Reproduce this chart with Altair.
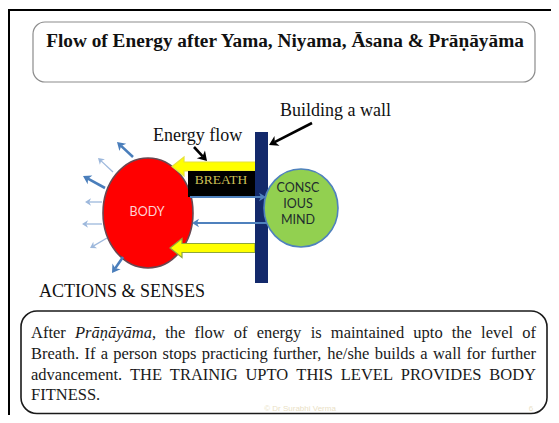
import re
import math
import altair as alt
import pandas as pd

# ---------------- data (text content) ----------------
TITLE = ["Flow of Energy after Yama, Niyama, Āsana & Prāṇāyāma"]
CALLOUTS = ["Building a wall", "Energy flow", "ACTIONS & SENSES"]
BODY_TEXT = ["BODY"]
MIND_TEXT = ["CONSC", "IOUS", "MIND"]
BREATH_TEXT = ["BREATH"]
PARAGRAPH = [
    "After *Prāṇāyāma*, the flow of energy is maintained upto the level of",
    "Breath. If a person stops practicing further, he/she builds a wall for further",
    "advancement. THE TRAINIG UPTO THIS LEVEL PROVIDES BODY",
    "FITNESS.",
]
JUSTIFIED = [True, True, True, False]
WATERMARK = ["© Dr Surabhi Verma", "6"]

# ---------------- layout (reference pixel space) ----------------
W, H = 543, 407
XD = [8, 551]
YD = [415, 8]

TITLE_POS = (285, 47)
CALLOUT_POS = [(280, 116), (153, 141), (39, 297)]
BODY_POS = (147, 212)
MIND_POS = [(298, 188), (298, 204), (298, 220)]
BREATH_POS = (221, 184)
PARA_LEFT, PARA_RIGHT = 31, 536
PARA_BASE = [338, 359, 380, 400]
PARA_FS = 16.5
WM_POS = [(300, 409), (531, 409)]

frame = pd.DataFrame({"x": [6, 9], "y": [10, 10], "x2": [559, 9], "y2": [10, 423]})
title_box = pd.DataFrame({"x": [33], "x2": [535], "y": [22], "y2": [82]})
para_box = pd.DataFrame({"x": [21], "x2": [547], "y": [311], "y2": [413.5]})
plain_rects = pd.DataFrame({
    "x": [188, 255], "x2": [255, 268], "y": [171, 132], "y2": [197, 283],
    "fill": ["#000000", "#13296b"],
})
ellipses = [
    # cx, cy, rx, ry, fill, stroke
    (148, 213, 45, 55, "#ff0000", "#6a4650"),
    (301, 208, 37, 39, "#92d050", "#4f81bd"),
]
yellow = pd.DataFrame({"x": [172, 170], "y": [166.5, 248],
                       "stroke": ["#e6e23a", "#8fa63c"]})
YELLOW_SHAPE = "M 0 0 L 12 -9.5 L 12 -4.5 L 85 -4.5 L 85 4.5 L 12 4.5 L 12 9.5 Z"

thin, thick, mid, blk = ("#9db8dc", 1.3, 6), ("#4a7ebb", 2.6, 8), ("#4f81bd", 2.0, 7), ("#000000", 2.6, 9)
arrows = [
    (133, 157, 117, 142, thick),
    (113, 172, 98, 158, thin),
    (105, 188, 83, 176, thick),
    (102, 202, 85, 202, thin),
    (102, 224, 82, 224, thin),
    (107, 238, 90, 248, thin),
    (123, 257, 112, 273, thick),
    (190, 197, 266, 197, mid),
    (267, 223, 192, 223, mid),
    (194, 147, 207, 161, blk),
    (312, 123, 269, 145, blk),
]
HEAD_SHAPE = "M 0 0 L -1 -0.62 L -0.72 0 L -1 0.62 Z"

# ---------------- build tables ----------------
rows, heads = [], []
for x1, y1, x2, y2, (col, sw, hl) in arrows:
    dx, dy = x2 - x1, y2 - y1
    L = math.hypot(dx, dy)
    ux, uy = dx / L, dy / L
    rows.append({"x": x1, "y": y1, "x2": x2 - ux * hl * 0.7, "y2": y2 - uy * hl * 0.7,
                 "color": col, "sw": sw})
    heads.append({"x": x2, "y": y2, "color": col, "hs": (2 * hl) ** 2,
                  "ang": math.degrees(math.atan2(dy, dx)) % 360})
arrow_lines = pd.DataFrame(rows)
arrow_heads = pd.DataFrame(heads)

# Times / Liberation Serif advance widths (per 1000 em)
TR = dict(zip("abcdefghijklmnopqrstuvwxyz",
              [444, 500, 444, 500, 444, 333, 500, 500, 278, 278, 500, 278, 778, 500, 500, 500,
               500, 333, 389, 278, 500, 500, 722, 500, 500, 444]))
TR.update(zip("ABCDEFGHIJKLMNOPQRSTUVWXYZ",
              [722, 667, 667, 722, 611, 556, 722, 722, 333, 389, 722, 611, 889, 722, 722, 556,
               722, 667, 556, 611, 722, 722, 944, 722, 722, 611]))
TR.update({" ": 250, ".": 250, ",": 250, "/": 278, "ā": 444, "ṇ": 500})
TI = dict(TR)
TI.update({"a": 500, "ā": 500, "r": 389, "y": 444, "m": 722, "P": 611, "ṇ": 500})


def seg_w(s, it):
    t = TI if it else TR
    return sum(t.get(c, 500) for c in s) * PARA_FS / 1000


para_rows = []
for line, base, just in zip(PARAGRAPH, PARA_BASE, JUSTIFIED):
    words = []
    for w in line.split(" "):
        segs = [(m.group(1) or m.group(2), m.group(1) is not None)
                for m in re.finditer(r"\*([^*]+)\*|([^*]+)", w)]
        words.append(segs)
    widths = [sum(seg_w(s, it) for s, it in segs) for segs in words]
    if just and len(words) > 1:
        gap = (PARA_RIGHT - PARA_LEFT - sum(widths)) / (len(words) - 1)
    else:
        gap = seg_w(" ", False)
    cx = PARA_LEFT
    for segs, wd in zip(words, widths):
        sx = cx
        for s, it in segs:
            para_rows.append({"x": sx, "y": base, "t": s, "it": it})
            sx += seg_w(s, it)
        cx += wd + gap
para = pd.DataFrame(para_rows)


# ---------------- chart ----------------
def X(f="x"):
    return alt.X(f"{f}:Q", scale=alt.Scale(domain=XD, nice=False, zero=False), axis=None)


def Y(f="y"):
    return alt.Y(f"{f}:Q", scale=alt.Scale(domain=YD, nice=False, zero=False), axis=None)


def X2():
    return alt.X2("x2:Q")


def Y2():
    return alt.Y2("y2:Q")


layers = []
layers.append(alt.Chart(frame).mark_rule(color="#000000", strokeWidth=2).encode(
    x=X(), y=Y(), x2=X2(), y2=Y2()))
layers.append(alt.Chart(title_box).mark_rect(cornerRadius=12, fill="white", stroke="#8c8c8c",
                                            strokeWidth=1.2).encode(x=X(), x2=X2(), y=Y(), y2=Y2()))
layers.append(alt.Chart(para_box).mark_rect(cornerRadius=16, fill="white", stroke="#1a1a1a",
                                           strokeWidth=1.6).encode(x=X(), x2=X2(), y=Y(), y2=Y2()))

# body ellipse
cx, cy, rx, ry, f, s = ellipses[0]
k = rx / ry
shape = f"M {-k:.4f} 0 A {k:.4f} 1 0 1 0 {k:.4f} 0 A {k:.4f} 1 0 1 0 {-k:.4f} 0 Z"
layers.append(alt.Chart(pd.DataFrame({"x": [cx], "y": [cy]})).mark_point(
    shape=shape, size=(2 * ry) ** 2, filled=True, fill=f, stroke=s, strokeWidth=1.6, opacity=1
).encode(x=X(), y=Y()))

# yellow block arrows
layers.append(alt.Chart(yellow).mark_point(
    shape=YELLOW_SHAPE, size=4, filled=True, fill="#ffff00", strokeWidth=1.2, opacity=1
).encode(x=X(), y=Y(), stroke=alt.Stroke("stroke:N", scale=None)))

# breath box + wall
layers.append(alt.Chart(plain_rects).mark_rect().encode(
    x=X(), x2=X2(), y=Y(), y2=Y2(), fill=alt.Fill("fill:N", scale=None)))

# mind ellipse
cx, cy, rx, ry, f, s = ellipses[1]
k = rx / ry
shape = f"M {-k:.4f} 0 A {k:.4f} 1 0 1 0 {k:.4f} 0 A {k:.4f} 1 0 1 0 {-k:.4f} 0 Z"
layers.append(alt.Chart(pd.DataFrame({"x": [cx], "y": [cy]})).mark_point(
    shape=shape, size=(2 * ry) ** 2, filled=True, fill=f, stroke=s, strokeWidth=1.6, opacity=1
).encode(x=X(), y=Y()))

# arrows
layers.append(alt.Chart(arrow_lines).mark_rule().encode(
    x=X(), y=Y(), x2=X2(), y2=Y2(),
    color=alt.Color("color:N", scale=None), strokeWidth=alt.StrokeWidth("sw:Q", scale=None)))
layers.append(alt.Chart(arrow_heads).mark_point(shape=HEAD_SHAPE, filled=True, opacity=1,
                                               strokeWidth=0).encode(
    x=X(), y=Y(), color=alt.Color("color:N", scale=None),
    size=alt.Size("hs:Q", scale=None), angle=alt.Angle("ang:Q", scale=None)))

# texts
layers.append(alt.Chart(pd.DataFrame({"x": [TITLE_POS[0]], "y": [TITLE_POS[1]], "t": TITLE}))
              .mark_text(font="Liberation Serif", fontSize=19.3, fontWeight="bold", align="center",
                         baseline="alphabetic", color="#111111")
              .encode(x=X(), y=Y(), text="t:N"))
layers.append(alt.Chart(pd.DataFrame({"x": [p[0] for p in CALLOUT_POS],
                                      "y": [p[1] for p in CALLOUT_POS], "t": CALLOUTS}))
              .mark_text(font="Liberation Serif", fontSize=18, align="left",
                         baseline="alphabetic", color="#111111")
              .encode(x=X(), y=Y(), text="t:N"))
layers.append(alt.Chart(pd.DataFrame({"x": [BREATH_POS[0]], "y": [BREATH_POS[1]], "t": BREATH_TEXT}))
              .mark_text(font="Liberation Serif", fontSize=13.5, align="center",
                         baseline="alphabetic", color="#cbbf55")
              .encode(x=X(), y=Y(), text="t:N"))
layers.append(alt.Chart(pd.DataFrame({"x": [BODY_POS[0]], "y": [BODY_POS[1]], "t": BODY_TEXT}))
              .mark_text(font="Lato", fontSize=12.5, align="center", baseline="middle",
                         color="#ffd2d2")
              .encode(x=X(), y=Y(), text="t:N"))
layers.append(alt.Chart(pd.DataFrame({"x": [p[0] for p in MIND_POS],
                                      "y": [p[1] for p in MIND_POS], "t": MIND_TEXT}))
              .mark_text(font="Lato", fontSize=12.5, align="center", baseline="middle",
                         color="#1f2d2d")
              .encode(x=X(), y=Y(), text="t:N"))
layers.append(alt.Chart(para[~para["it"]])
              .mark_text(font="Liberation Serif", fontSize=PARA_FS, align="left",
                         baseline="alphabetic", color="#1a1a1a")
              .encode(x=X(), y=Y(), text="t:N"))
layers.append(alt.Chart(para[para["it"]])
              .mark_text(font="Liberation Serif", fontSize=PARA_FS, fontStyle="italic",
                         align="left", baseline="alphabetic", color="#1a1a1a")
              .encode(x=X(), y=Y(), text="t:N"))
layers.append(alt.Chart(pd.DataFrame({"x": [p[0] for p in WM_POS],
                                      "y": [p[1] for p in WM_POS], "t": WATERMARK}))
              .mark_text(font="Liberation Sans", fontSize=8, align="center", baseline="middle",
                         color="#eadfc6")
              .encode(x=X(), y=Y(), text="t:N"))

chart = alt.layer(*layers).properties(
    width=W, height=H, padding=0, autosize="none", background="white"
).configure_view(stroke=None)

chart.save("out.html", embed_options={"renderer": "svg", "actions": False})
